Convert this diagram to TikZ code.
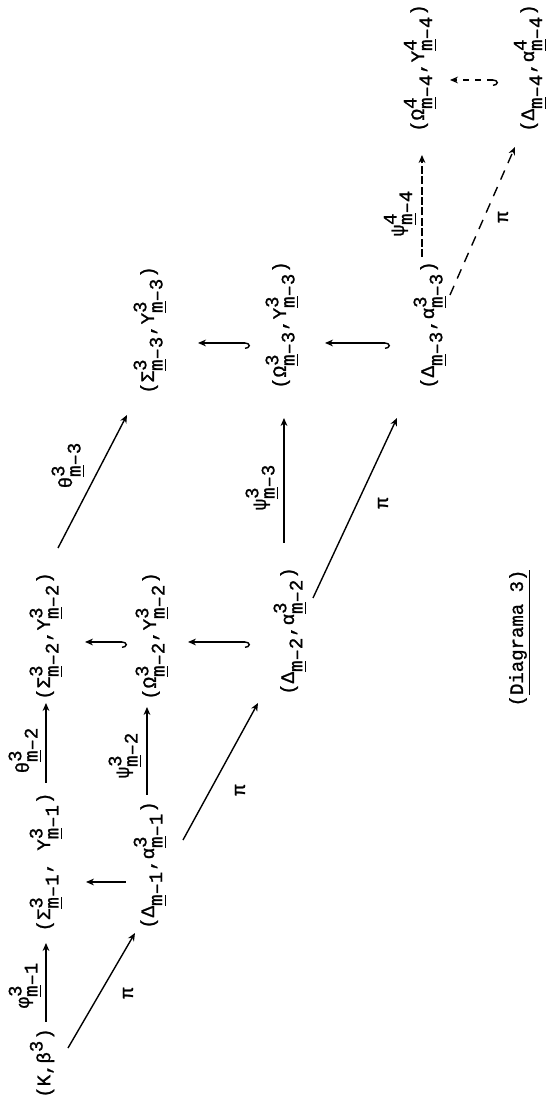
\documentclass[tikz,border=0pt]{standalone}
\usepackage{fontspec}
\setmonofont{Liberation Mono}[FakeBold=1.2]
\usetikzlibrary{arrows.meta,calc}
\newcommand\sx[2]{$^{\mbox{\ttfamily #1}}_{\mbox{\ttfamily\underline{m}–#2}}$}
\newcommand\supx[1]{$^{\mbox{\ttfamily #1}}$}
\begin{document}
\begin{tikzpicture}[x=0.5pt,y=0.5pt,
  every node/.style={font=\ttfamily\fontsize{9.5}{11}\selectfont, inner sep=0pt},
  ar/.style={line width=0.7pt,-{Stealth[length=4pt,width=3.4pt]}},
  hk/.style={line width=0.7pt,{Hooks[right,length=2.5pt,width=6pt]}-{Stealth[length=4pt,width=3.4pt]}},
  dar/.style={ar,dash pattern=on 5pt off 4pt},
  dhk/.style={hk,dash pattern=on 3pt off 3pt},
  dense/.style={ar,line width=0.9pt,dash pattern=on 4pt off 1.2pt}]
\begin{scope}[rotate=90,transform shape]
\useasboundingbox (0,0) rectangle (1104,547);
% nodes
\node (K)   at (41,505)  {(K,β\supx{3})};
\node (Sg1) at (242,501) {(Σ\sx{3}{1}, Y\sx{3}{1})};
\node (D1)  at (239,397) {(Δ\sx{}{1},α\sx{3}{1})};
\node (Sg2) at (468,501) {(Σ\sx{3}{2},Y\sx{3}{2})};
\node (Om2) at (468,395) {(Ω\sx{3}{2},Y\sx{3}{2})};
\node (D2)  at (473,257) {(Δ\sx{}{2},α\sx{3}{2})};
\node (Sg3) at (774,397) {(Σ\sx{3}{3},Y\sx{3}{3})};
\node (Om3) at (779,265) {(Ω\sx{3}{3},Y\sx{3}{3})};
\node (D3)  at (779,117) {(Δ\sx{}{3},α\sx{3}{3})};
\node (Om4) at (1036,127) {(Ω\sx{4}{4},Y\sx{4}{4})};
\node (D4)  at (1036,17) {(Δ\sx{}{4},α\sx{4}{4})};
\node (cap) at (466,27) {(\underline{Diagrama 3)}};
% labels
\node (lphi) at (119,522) {φ\sx{3}{1}};
\node (lpi1) at (111,419) {π};
\node (lth2) at (354,522) {θ\sx{3}{2}};
\node (lps2) at (349,422) {ψ\sx{3}{2}};
\node (lpi2) at (314,307) {π};
\node (lth3) at (639,479) {θ\sx{3}{3}};
\node (lps3) at (617,285) {ψ\sx{3}{3}};
\node (lpi3) at (601,164) {π};
\node (lps4) at (891,147) {ψ\sx{4}{4}};
\node (lpi4) at (887,44)  {π};
% connectors
\draw[ar] ($(K)+(41,-4)$) -- ($(Sg1)+(-81,0)$);
\draw[ar] ($(K)+(15,-26)$) -- ($(D1)+(-68,15)$);
\draw[ar] ($(D1)+(-17,24)$) -- ($(Sg1)+(-20,-40)$);
\draw[ar] ($(Sg1)+(79,0)$) -- ($(Sg2)+(-67,0)$);
\draw[ar] ($(D1)+(70,3)$) -- ($(Om2)+(-71,5)$);
\draw[ar] ($(D1)+(25,-33)$) -- ($(D2)+(-72,32)$);
\draw[hk] ($(Om2)+(-6,25)$) -- ($(Sg2)+(-6,-39)$);
\draw[hk] ($(D2)+(-11,40)$) -- ($(Om2)+(-6,-36)$);
\draw[ar] ($(Sg2)+(88,-12)$) -- ($(Sg3)+(-85,23)$);
\draw[ar] ($(D2)+(88,6)$) -- ($(Om3)+(-93,-2)$);
\draw[ar] ($(D2)+(33,-23)$) -- ($(D3)+(-93,33)$);
\draw[hk] ($(Om3)+(-18,32)$) -- ($(Sg3)+(-13,-48)$);
\draw[hk] ($(D3)+(-18,40)$) -- ($(Om3)+(-18,-43)$);
\draw[dense] ($(D3)+(68,8)$) -- ($(Om4)+(-87,-2)$);
\draw[dar] ($(D3)+(30,-20)$) -- ($(D4)+(-79,15)$);
\draw[dhk] ($(D4)+(-12,32)$) -- ($(Om4)+(-12,-30)$);
\end{scope}
\end{tikzpicture}
\end{document}
